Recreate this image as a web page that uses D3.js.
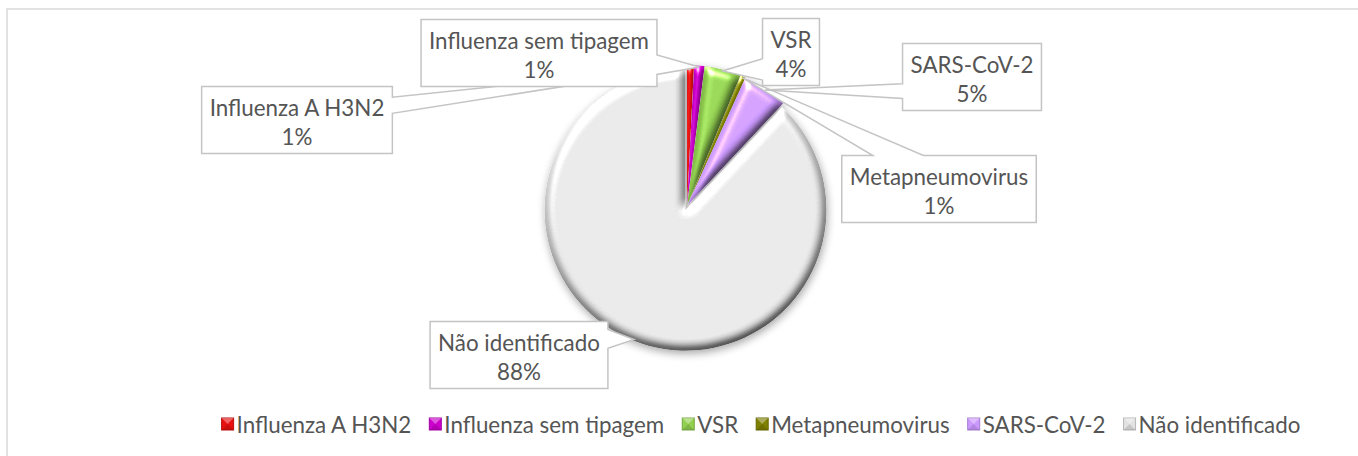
<!DOCTYPE html>
<html><head><meta charset="utf-8">
<script src="https://cdn.jsdelivr.net/npm/d3@7"></script>
<style>html,body{margin:0;padding:0;background:#fff;overflow:hidden}</style>
</head><body>
<svg id="chart" width="1358" height="456"></svg>
<script>
// ---------- data ----------
const categories = ["Influenza A H3N2", "Influenza sem tipagem", "VSR", "Metapneumovirus", "SARS-CoV-2", "Não identificado"];
const values = [0.8, 1.2, 4.2, 0.6, 5.2, 88.0];
// ---------- styles ----------
const sliceColors = ["#E81010", "#CC00CC", "#92D050", "#7F7F00", "#CC99FF", "#E2E2E2"];
// callout layout: box centre offset from pie centre (in px), side carrying the pointer, pointer base fractions
const calloutLayout = [
  {dx: -390, dy: -86,  side: "right", f0: 0.16, f1: 0.40},
  {dx: -148, dy: -153, side: "right", f0: 0.53, f1: 0.82},
  {dx: 104,  dy: -154, side: "left",  f0: 0.60, f1: 0.92},
  {dx: 252,  dy: -17,  side: "top",   f0: 0.16, f1: 0.42},
  {dx: 285,  dy: -129, side: "left",  f0: 0.60, f1: 0.82},
  {dx: -168, dy: 149,  side: "right", f0: 0.12, f1: 0.40}
];

const W = 1358, H = 456;
const cx = 687, cy = 206, R = 141;
const legendShift = 74, legendY = 425;
const textColor = "#555555";
const fontFamily = "Lato, 'Noto Sans', sans-serif";

const svg = d3.select("#chart");
const defs = svg.append("defs");

// font size so Lato width matches the reference's Calibri text
const probe = svg.append("text").attr("font-family", fontFamily).attr("font-size", 100).text("Influenza sem tipagem");
const fs = 220 / probe.node().getComputedTextLength() * 100;
probe.remove();

// bevel filter
function bevel(id, blur, scale, kd) {
  const f = defs.append("filter").attr("id", id).attr("x", "-20%").attr("y", "-20%").attr("width", "140%").attr("height", "140%")
    .attr("color-interpolation-filters", "sRGB");
  f.append("feGaussianBlur").attr("in", "SourceAlpha").attr("stdDeviation", blur).attr("result", "b");
  f.append("feDiffuseLighting").attr("in", "b").attr("surfaceScale", scale).attr("diffuseConstant", kd)
    .attr("lighting-color", "#fff").attr("result", "d")
    .append("feDistantLight").attr("azimuth", 250).attr("elevation", 62);
  f.append("feComposite").attr("in", "SourceGraphic").attr("in2", "d").attr("operator", "arithmetic")
    .attr("k1", 1).attr("k2", 0).attr("k3", 0).attr("k4", 0).attr("result", "lit");
  f.append("feSpecularLighting").attr("in", "b").attr("surfaceScale", scale).attr("specularConstant", 0.9)
    .attr("specularExponent", 30).attr("lighting-color", "#fff").attr("result", "s")
    .append("feDistantLight").attr("azimuth", 250).attr("elevation", 40);
  f.append("feComposite").attr("in", "s").attr("in2", "SourceAlpha").attr("operator", "in").attr("result", "s2");
  f.append("feComposite").attr("in", "lit").attr("in2", "s2").attr("operator", "arithmetic")
    .attr("k1", 0).attr("k2", 1).attr("k3", 1).attr("k4", 0).attr("result", "sum");
  f.append("feComposite").attr("in", "sum").attr("in2", "SourceAlpha").attr("operator", "in");
}
bevel("bevelPie", 4, 5, 1.12);

const sh = defs.append("filter").attr("id", "shadow").attr("x", "-20%").attr("y", "-20%").attr("width", "140%").attr("height", "140%");
sh.append("feGaussianBlur").attr("in", "SourceAlpha").attr("stdDeviation", 4).attr("result", "bl");
sh.append("feOffset").attr("in", "bl").attr("dx", 1).attr("dy", 3).attr("result", "of");
sh.append("feComponentTransfer").attr("in", "of").attr("result", "of2")
  .append("feFuncA").attr("type", "linear").attr("slope", 0.35);
const mg = sh.append("feMerge");
mg.append("feMergeNode").attr("in", "of2");
mg.append("feMergeNode").attr("in", "SourceGraphic");

// chart border (extends beyond the visible window, as in the reference)
svg.append("rect").attr("x", 7).attr("y", 9).attr("width", W + 20).attr("height", H + 20)
  .attr("fill", "#fff").attr("stroke", "#D9D9D9").attr("stroke-width", 1.5);

// pie
const pie = d3.pie().sort(null).value(d => d)(values);
const arc = d3.arc().innerRadius(0).outerRadius(R);
const explode = 4;
const g = svg.append("g").attr("transform", `translate(${cx},${cy})`).attr("filter", "url(#shadow)");
g.selectAll("path").data(pie).join("path")
  .attr("d", arc)
  .attr("fill", (d, i) => sliceColors[i])
  .attr("filter", "url(#bevelPie)")
  .attr("transform", (d, i) => {
    if (i !== values.length - 1) return null;
    const a = (d.startAngle + d.endAngle) / 2;
    return `translate(${explode * Math.sin(a)},${-explode * Math.cos(a)})`;
  });

// callouts
const total = d3.sum(values);
const pct = v => Math.round(v / total * 100) + "%";
const lbl = svg.append("g").attr("font-family", fontFamily).attr("font-size", fs).attr("fill", textColor);
pie.forEach((d, i) => {
  const L = calloutLayout[i];
  const tmp = lbl.append("text").text(categories[i]);
  const tw = Math.max(tmp.node().getComputedTextLength(), 30);
  tmp.remove();
  const w = tw + 16, h = 67;
  const bx = cx + L.dx - w / 2, by = cy + L.dy - h / 2;
  const x1 = bx + w, y1 = by + h;
  const a = (d.startAngle + d.endAngle) / 2;
  const rr = R * 0.99 + (i === values.length - 1 ? explode : 0);
  const tip = [cx + rr * Math.sin(a), cy - rr * Math.cos(a)];
  let pts;
  if (L.side === "right") pts = [[bx, by], [x1, by], [x1, by + L.f0 * h], tip, [x1, by + L.f1 * h], [x1, y1], [bx, y1]];
  else if (L.side === "left") pts = [[bx, by], [x1, by], [x1, y1], [bx, y1], [bx, by + L.f1 * h], tip, [bx, by + L.f0 * h]];
  else if (L.side === "top") pts = [[bx, by], [bx + L.f0 * w, by], tip, [bx + L.f1 * w, by], [x1, by], [x1, y1], [bx, y1]];
  else pts = [[bx, by], [x1, by], [x1, y1], [bx + L.f1 * w, y1], tip, [bx + L.f0 * w, y1], [bx, y1]];
  lbl.append("path").attr("d", "M" + pts.map(p => p.join(",")).join("L") + "Z")
    .attr("fill", "#fff").attr("stroke", "#C4C4C4").attr("stroke-width", 1.5).attr("stroke-linejoin", "miter");
  lbl.append("text").attr("x", bx + w / 2).attr("y", by + 29).attr("text-anchor", "middle").text(categories[i]);
  lbl.append("text").attr("x", bx + w / 2).attr("y", by + 58).attr("text-anchor", "middle").text(pct(values[i]));
});

// legend
const leg = svg.append("g").attr("font-family", fontFamily).attr("font-size", fs).attr("fill", textColor);
const key = 12, gapKT = 3, gapItem = 18;
const widths = categories.map(c => {
  const t = leg.append("text").text(c);
  const wv = t.node().getComputedTextLength();
  t.remove();
  return wv;
});
const totalW = d3.sum(widths) + categories.length * (key + gapKT) + (categories.length - 1) * gapItem;
let lx = cx + legendShift - totalW / 2;
categories.forEach((c, i) => {
  const kx = lx, ky = legendY - key / 2 - 1;
  const k = leg.append("g").attr("transform", `translate(${kx},${ky})`);
  k.append("rect").attr("width", key).attr("height", key).attr("fill", sliceColors[i])
    .attr("stroke", d3.color(sliceColors[i]).darker(0.6)).attr("stroke-width", 1);
  // pyramid facets
  k.append("path").attr("d", `M0,0L${key},0L${key / 2},${key / 2}Z`).attr("fill", "#fff").attr("opacity", 0.35);
  k.append("path").attr("d", `M0,${key}L${key},${key}L${key / 2},${key / 2}Z`).attr("fill", "#000").attr("opacity", 0.12);
  leg.append("text").attr("x", lx + key + gapKT).attr("y", legendY + 8).text(c);
  lx += key + gapKT + widths[i] + gapItem;
});
</script>
</body></html>
